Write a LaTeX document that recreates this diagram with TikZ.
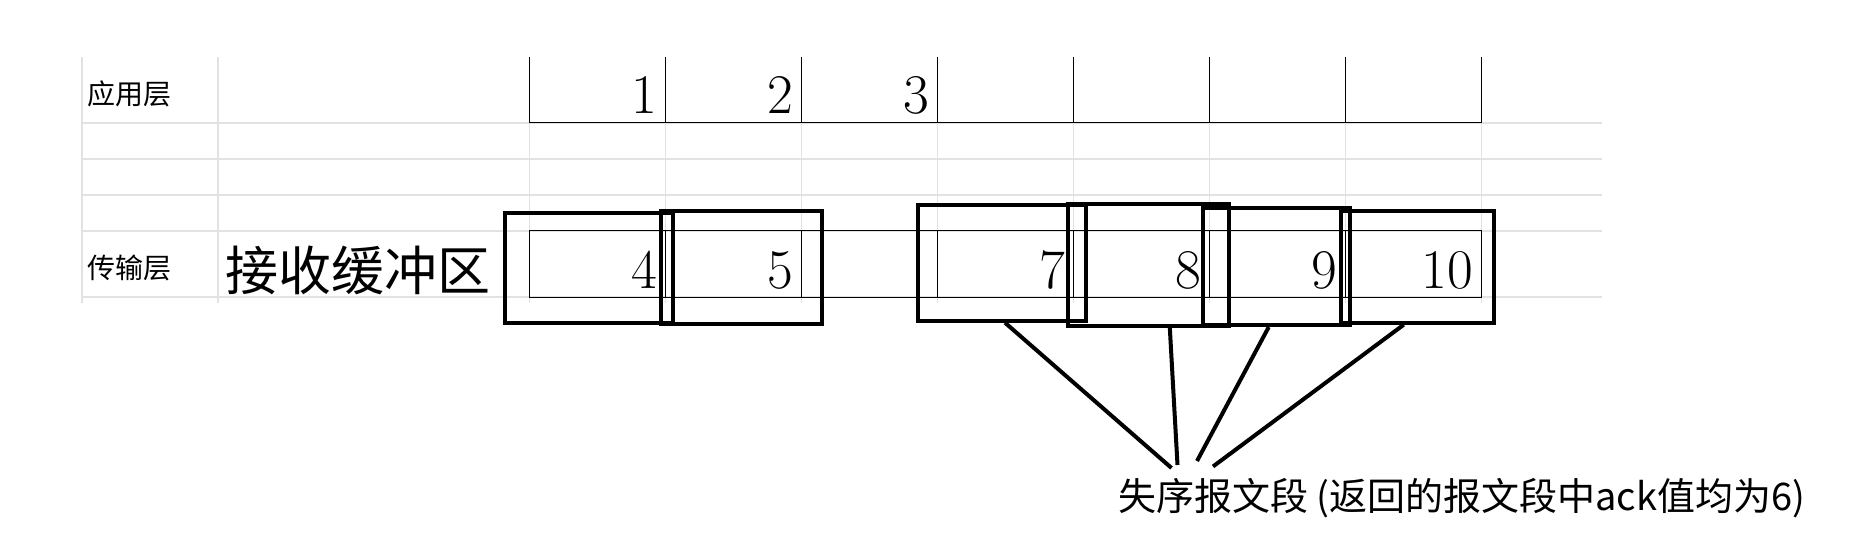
\documentclass[tikz,border=0pt]{standalone}
\usepackage{fontspec}
\usepackage{tikz}
\newfontfamily\cjk{Noto Sans CJK SC}
\definecolor{sheetgray}{RGB}{226,226,226}
\tikzset{
  sheet/.style={draw=sheetgray,line width=1.2pt},
  cell/.style={draw=black,line width=1pt},
  segbox/.style={draw,line width=4pt,inner sep=0pt},
  link/.style={line width=4pt},
  num/.style={font=\fontsize{56}{56}\selectfont,inner sep=0pt,anchor=base east},
  layer/.style={font=\cjk\fontsize{28}{28}\selectfont,inner sep=0pt,anchor=base west},
  buf/.style={font=\cjk\fontsize{53}{53}\selectfont,inner sep=0pt,anchor=base west},
  note/.style={font=\cjk\fontsize{38}{38}\selectfont,inner sep=0pt,anchor=base west}
}

\begin{document}
\begin{tikzpicture}[x=1pt,y=-1pt]
  \useasboundingbox (0,0) rectangle (1863,556);
  % spreadsheet grid
  \draw[sheet] (81,123) -- (1602,123) (81,159) -- (1602,159) (81,195) -- (1602,195) (81,231) -- (1602,231) (81,297) -- (1602,297);
  \draw[sheet] (218,57) -- (218,303) (529.6,123) -- (529.6,303) (665.6,123) -- (665.6,303) (801.5,123) -- (801.5,303) (937.5,123) -- (937.5,303);
  \draw[sheet] (1073.4,123) -- (1073.4,303) (1209.4,123) -- (1209.4,303) (1345.4,123) -- (1345.4,303) (1481.3,123) -- (1481.3,303);
  \draw[sheet,line width=2pt] (81.5,57) -- (81.5,303);
  % application layer row
  \draw[cell] (529.6,57) -- (529.6,123) -- (1481.3,123) -- (1481.3,57) (665.6,57) -- (665.6,123) (801.5,57) -- (801.5,123);
  \draw[cell] (937.5,57) -- (937.5,123) (1073.4,57) -- (1073.4,123) (1209.4,57) -- (1209.4,123) (1345.4,57) -- (1345.4,123);
  % transport layer row
  \draw[cell] (529.6,231) rectangle (1481.3,297) (665.6,231) -- (665.6,297) (801.5,231) -- (801.5,297) (937.5,231) -- (937.5,297);
  \draw[cell] (1073.4,231) -- (1073.4,297) (1209.4,231) -- (1209.4,297) (1345.4,231) -- (1345.4,297);

  \node[layer] (app) at (87,105) {应用层}; \node[layer] (trans) at (87,278.5) {传输层};
  \node[buf] (rbuf) at (225,290) {接收缓冲区};

  \node[num] (n1) at (657.6,114) {1}; \node[num] (n2) at (793.5,114) {2}; \node[num] (n3) at (929.5,114) {3};
  \node[num] (n4) at (657.6,288) {4}; \node[num] (n5) at (793.5,288) {5};
  \node[num] (n7) at (1065.4,288) {7}; \node[num] (n8) at (1201.4,288) {8}; \node[num] (n9) at (1337.4,288) {9}; \node[num] (n10) at (1473.3,288) {10};

  % segment boxes
  \node[segbox,minimum width=168.3pt,minimum height=109.4pt] (b4) at (588.9,268) {};
  \node[segbox,minimum width=161.3pt,minimum height=113pt] (b5) at (741.4,267.5) {};
  \node[segbox,minimum width=168pt,minimum height=115.4pt] (b7) at (1002,263) {};
  \node[segbox,minimum width=161pt,minimum height=121.7pt] (b8) at (1148.8,264.9) {};
  \node[segbox,minimum width=146.7pt,minimum height=116.7pt] (b9) at (1276.7,266.7) {};
  \node[segbox,minimum width=153.3pt,minimum height=112pt] (b10) at (1417.7,266.7) {};

  \node[note] (lbl) at (1118,510.5) {失序报文段 (返回的报文段中ack值均为6)};
  \coordinate (e1) at (1171.5,468); \coordinate (e2) at (1177.5,465); \coordinate (e3) at (1197,461); \coordinate (e4) at (1213,466.5);
  \draw[link] ([xshift=3pt]b7.south) -- (e1); \draw[link] ([xshift=21pt]b8.south) -- (e2);
  \draw[link] ([xshift=-8pt]b9.south) -- (e3); \draw[link] ([xshift=-14pt]b10.south) -- (e4);
\end{tikzpicture}
\end{document}
